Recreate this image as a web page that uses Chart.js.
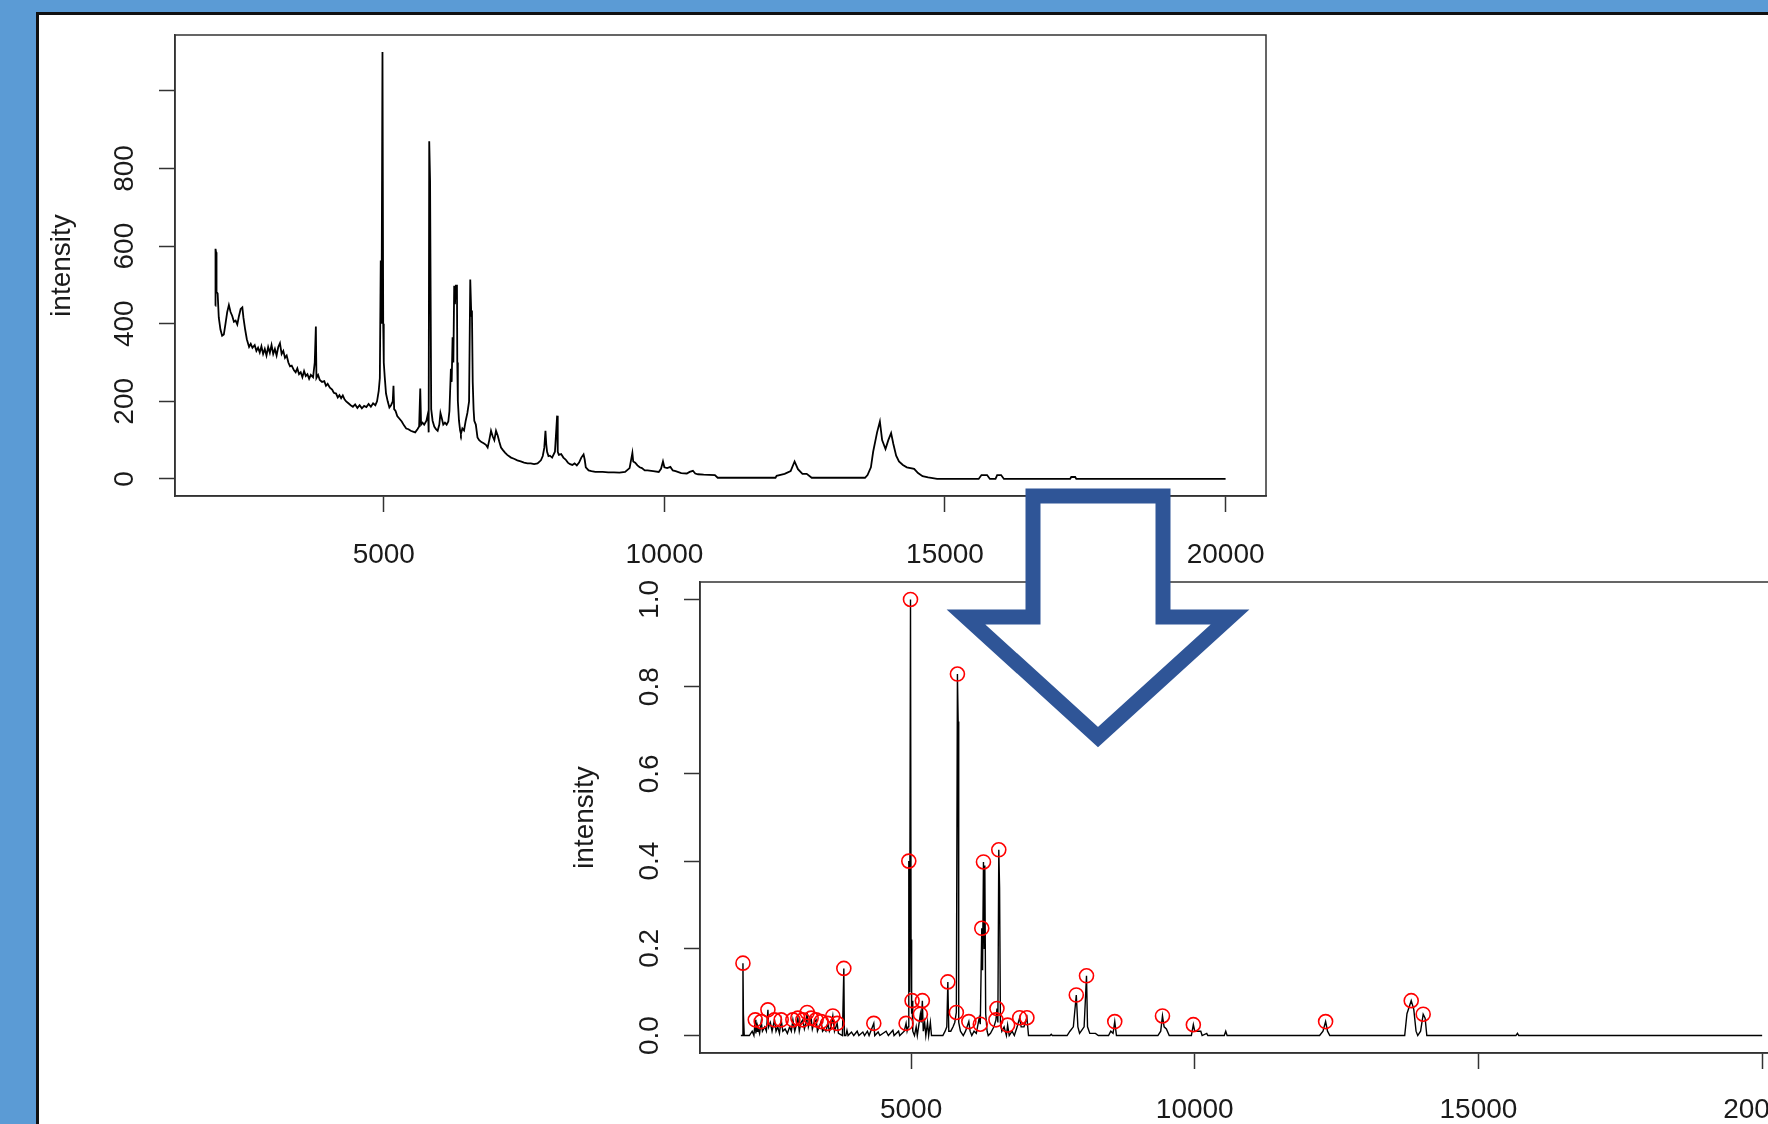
<!DOCTYPE html>
<html>
<head>
<meta charset="utf-8">
<title>Spectrum before and after peak picking</title>
<script src="https://cdn.jsdelivr.net/npm/chart.js@4.4.1/dist/chart.umd.min.js"></script>
<style>
  html, body { margin: 0; padding: 0; }
  body { width: 1768px; height: 1124px; background: #5b9bd5; overflow: hidden; position: relative; }
  #panel { position: absolute; left: 36px; top: 12px; width: 1800px; height: 1200px; background: #fff;
           border-left: 3px solid #111; border-top: 3px solid #111; }
  .plot { position: absolute; }
  #rawBox { left: 38px; top: 15px; }
  #procBox { left: 520px; top: 570px; }
  #arrow { position: absolute; left: 0; top: 0; pointer-events: none; }
</style>
</head>
<body>
<div id="panel"></div>
<div class="plot" id="rawBox"><canvas id="rawChart" width="1250" height="560"></canvas></div>
<div class="plot" id="procBox"><canvas id="procChart" width="1300" height="554"></canvas></div>
<svg id="arrow" width="1768" height="1124">
  <polygon points="1033,496 1163,496 1163,617 1230,617 1098,737 966,617 1033,617"
           fill="#fff" stroke="#2f5597" stroke-width="15" stroke-linejoin="miter" />
</svg>
<script>
// raw spectrum (m/z, intensity)
const rawMz = [
    2000, 2002, 2012, 2020, 2040, 2060, 2090, 2120, 2150, 2180,
    2210, 2240, 2270, 2300, 2330, 2360, 2390, 2420, 2450, 2480,
    2500, 2530, 2560, 2600, 2630, 2660, 2700, 2730, 2760, 2790,
    2820, 2850, 2880, 2910, 2940, 2970, 3000, 3030, 3060, 3090,
    3120, 3150, 3180, 3210, 3240, 3270, 3300, 3330, 3360, 3400,
    3430, 3460, 3490, 3520, 3550, 3580, 3610, 3640, 3670, 3700,
    3740, 3770, 3790, 3800, 3830, 3860, 3900, 3940, 3970, 4000,
    4040, 4080, 4110, 4150, 4180, 4210, 4240, 4270, 4300, 4330,
    4370, 4410, 4450, 4490, 4530, 4570, 4610, 4650, 4690, 4730,
    4770, 4810, 4850, 4880, 4910, 4930, 4946, 4960, 4977, 4990,
    5000, 5018, 5040, 5070, 5100, 5130, 5160, 5173, 5185, 5210,
    5240, 5280, 5320, 5360, 5400, 5440, 5480, 5520, 5560, 5600,
    5630, 5650, 5665, 5690, 5720, 5760, 5790, 5800, 5810, 5825,
    5839, 5845, 5870, 5900, 5930, 5960, 5990, 6010, 6036, 6060,
    6090, 6120, 6150, 6170, 6196, 6210, 6226, 6240, 6255, 6268,
    6285, 6304, 6310, 6320, 6340, 6360, 6375, 6400, 6430, 6460,
    6490, 6520, 6541, 6560, 6571, 6585, 6600, 6613, 6640, 6670,
    6700, 6740, 6780, 6820, 6851, 6880, 6911, 6940, 6970, 7000,
    7030, 7060, 7089, 7120, 7160, 7200, 7268, 7320, 7380, 7440,
    7500, 7560, 7620, 7679, 7740, 7800, 7833, 7860, 7881, 7895,
    7910, 7935, 7960, 8000, 8050, 8089, 8100, 8120, 8161, 8200,
    8240, 8280, 8320, 8360, 8400, 8440, 8480, 8520, 8560, 8580,
    8600, 8650, 8700, 8770, 8900, 9000, 9100, 9200, 9300, 9380,
    9430, 9445, 9480, 9520, 9560, 9600, 9650, 9700, 9800, 9900,
    9940, 9975, 10000, 10050, 10107, 10150, 10200, 10300, 10400, 10450,
    10509, 10550, 10600, 10700, 10900, 10950, 11500, 11980, 12000, 12143,
    12250, 12320, 12380, 12460, 12536, 12625, 13000, 13575, 13620, 13680,
    13720, 13790, 13840, 13880, 13940, 13990, 14040, 14080, 14130, 14180,
    14250, 14320, 14450, 14520, 14600, 14700, 14860, 15600, 15650, 15750,
    15800, 15900, 15930, 16000, 16050, 17230, 17250, 17320, 17340, 20000
];
const rawIntensity = [
    446, 593, 584, 482, 478, 416, 385, 369, 372, 400,
    430, 448, 430, 420, 405, 408, 398, 420, 438, 442,
    415, 385, 360, 340, 348, 338, 345, 330, 338, 326,
    342, 322, 335, 318, 340, 325, 345, 322, 335, 318,
    340, 350, 322, 330, 312, 318, 300, 290, 292, 280,
    275, 285, 270, 275, 262, 278, 265, 270, 258, 268,
    262, 300, 393, 260, 268, 255, 250, 252, 240, 245,
    235, 230, 222, 220, 210, 216, 208, 215, 205, 200,
    195, 190, 186, 192, 183, 190, 182, 188, 185, 193,
    186, 195, 190, 200, 227, 260, 563, 400, 1100, 400,
    300, 261, 220, 200, 184, 190, 200, 240, 180, 175,
    162, 155, 148, 138, 130, 128, 124, 122, 120, 128,
    135, 233, 140, 145, 140, 150, 170, 120, 870, 769,
    769, 180, 150, 135, 128, 124, 140, 170, 155, 140,
    145, 140, 148, 175, 284, 250, 365, 300, 498, 450,
    498, 498, 300, 201, 150, 125, 116, 130, 125, 150,
    170, 200, 514, 420, 434, 250, 180, 150, 140, 107,
    100, 95, 92, 88, 81, 100, 124, 110, 100, 124,
    112, 95, 81, 75, 68, 62, 55, 52, 48, 45,
    42, 40, 40, 38, 40, 48, 59, 80, 124, 90,
    70, 59, 60, 55, 70, 163, 70, 62, 64, 55,
    50, 42, 38, 36, 40, 35, 42, 55, 63, 50,
    30, 22, 20, 18, 18, 17, 17, 16, 18, 28,
    67, 45, 42, 35, 30, 28, 22, 22, 20, 18,
    26, 45, 30, 28, 31, 22, 20, 15, 14, 18,
    21, 14, 12, 11, 10, 3, 3, 3, 8, 13,
    20, 45, 25, 13, 13, 3, 3, 3, 10, 30,
    70, 120, 148, 100, 77, 100, 118, 90, 60, 45,
    36, 30, 26, 15, 7, 4, 0, 0, 10, 10,
    0, 0, 10, 10, 0, 0, 5, 5, 0, 0
];

// processed spectrum (baseline removed, scaled to 1) from the lower plot
const procMz = [
    2000, 2030, 2037, 2045, 2055, 2060, 2150, 2200, 2230, 2254,
    2265, 2271, 2285, 2300, 2330, 2359, 2380, 2420, 2450, 2477,
    2490, 2520, 2550, 2593, 2620, 2650, 2680, 2711, 2740, 2780,
    2820, 2860, 2890, 2917, 2950, 2980, 3005, 3030, 3060, 3093,
    3120, 3150, 3169, 3190, 3210, 3239, 3260, 3290, 3327, 3350,
    3380, 3415, 3440, 3470, 3500, 3533, 3560, 3590, 3621, 3650,
    3697, 3720, 3790, 3815, 3825, 3850, 3870, 3890, 3950, 3990,
    4050, 4080, 4150, 4180, 4230, 4260, 4343, 4360, 4420, 4450,
    4560, 4600, 4680, 4700, 4780, 4800, 4880, 4912, 4930, 4950,
    4960, 4975, 4990, 5000, 5010, 5018, 5030, 5060, 5090, 5110,
    5164, 5180, 5199, 5215, 5240, 5260, 5290, 5310, 5340, 5360,
    5560, 5600, 5630, 5648, 5665, 5700, 5740, 5770, 5798, 5817,
    5830, 5840, 5870, 5920, 5960, 6018, 6040, 6070, 6110, 6150,
    6200, 6220, 6246, 6260, 6276, 6290, 6300, 6315, 6340, 6360,
    6400, 6460, 6496, 6514, 6530, 6546, 6560, 6575, 6600, 6640,
    6680, 6702, 6730, 6780, 6820, 6870, 6914, 6940, 6990, 7042,
    7070, 7450, 7470, 7490, 7750, 7800, 7860, 7912, 7940, 7970,
    8050, 8092, 8110, 8150, 8250, 8300, 8480, 8520, 8560, 8590,
    8620, 9350, 9400, 9431, 9460, 9500, 9550, 9940, 9975, 10000,
    10106, 10130, 10211, 10230, 10520, 10546, 10570, 12200, 12260, 12306,
    12340, 12380, 13700, 13740, 13815, 13860, 13900, 13930, 13980, 14026,
    14060, 14090, 15660, 15687, 15710, 20000
];
const procIntensity = [
    0, 0, 0.166, 0.05, 0.05, 0, 0, 0.01, 0, 0.036,
    0.005, 0.03, 0.01, 0.02, 0.005, 0.032, 0.01, 0.02, 0.01, 0.059,
    0.02, 0.03, 0.01, 0.036, 0.01, 0.02, 0.005, 0.036, 0.01, 0.015,
    0.005, 0.02, 0.01, 0.036, 0.01, 0.025, 0.04, 0.01, 0.03, 0.036,
    0.015, 0.03, 0.053, 0.02, 0.03, 0.04, 0.015, 0.03, 0.036, 0.01,
    0.02, 0.032, 0.01, 0.015, 0.01, 0.028, 0.01, 0.02, 0.045, 0.01,
    0.028, 0.005, 0, 0.154, 0, 0, 0.012, 0, 0.008, 0,
    0.01, 0, 0.008, 0, 0.01, 0, 0.028, 0, 0.008, 0,
    0.01, 0, 0.012, 0, 0.01, 0, 0.01, 0.028, 0.01, 0.02,
    0.40, 0.10, 1.0, 0.22, 0.05, 0.08, 0.01, 0, 0.02, 0,
    0.049, 0.03, 0.08, 0.01, 0.03, 0, 0.03, 0, 0.03, 0,
    0, 0.01, 0.02, 0.123, 0.01, 0.01, 0.02, 0.03, 0.053, 0.829,
    0.72, 0.03, 0.01, 0, 0.01, 0.032, 0.01, 0, 0.01, 0.005,
    0.04, 0.026, 0.246, 0.15, 0.398, 0.20, 0.39, 0.05, 0.01, 0,
    0.005, 0.02, 0.036, 0.062, 0.03, 0.426, 0.34, 0.03, 0.01, 0.02,
    0, 0.024, 0, 0.01, 0, 0.02, 0.041, 0.02, 0.02, 0.041,
    0, 0, 0.003, 0, 0, 0.01, 0.02, 0.093, 0.02, 0.005,
    0.02, 0.137, 0.02, 0.005, 0.005, 0, 0, 0.01, 0.005, 0.032,
    0, 0, 0.01, 0.045, 0.02, 0.015, 0, 0, 0.025, 0.01,
    0.01, 0, 0.005, 0, 0, 0.01, 0, 0, 0.01, 0.032,
    0.01, 0, 0, 0.05, 0.08, 0.06, 0.01, 0, 0.01, 0.049,
    0.04, 0, 0, 0.005, 0, 0
];

// detected peaks (red circles)
const peakMz = [
    2037, 2254, 2359, 2477, 2593, 2711, 2917, 3005, 3093, 3169,
    3239, 3327, 3415, 3533, 3621, 3697, 3815, 4343, 4912, 4960,
    4990, 5018, 5164, 5199, 5648, 5798, 5817, 6018, 6220, 6246,
    6276, 6496, 6514, 6546, 6702, 6914, 7042, 7912, 8092, 8590,
    9431, 9975, 12306, 13815, 14026
];
const peakIntensity = [
    0.166, 0.036, 0.032, 0.059, 0.036, 0.036, 0.036, 0.04, 0.036, 0.053,
    0.04, 0.036, 0.032, 0.028, 0.045, 0.028, 0.154, 0.028, 0.028, 0.40,
    1.0, 0.08, 0.049, 0.08, 0.123, 0.053, 0.829, 0.032, 0.026, 0.246,
    0.398, 0.036, 0.062, 0.426, 0.024, 0.041, 0.041, 0.093, 0.137, 0.032,
    0.045, 0.025, 0.032, 0.08, 0.049
];

const xTicks = [5000, 10000, 15000, 20000];
const rawYTicks = [0, 200, 400, 600, 800, 1000];
const procYTicks = [0, 0.2, 0.4, 0.6, 0.8, 1.0];

const FONT = '"Liberation Sans", Arial, sans-serif';
const TEXT = '#1a1a1a';
const AXIS = '#333';

// R style box around the plot region
const boxPlugin = {
    id: 'box',
    afterDraw(chart) {
        const a = chart.chartArea;
        const ctx = chart.ctx;
        ctx.save();
        ctx.strokeStyle = AXIS;
        ctx.lineWidth = 1.5;
        ctx.strokeRect(a.left, a.top, a.right - a.left, a.bottom - a.top);
        ctx.restore();
    }
};

function toPoints(xs, ys) {
    return xs.map((x, i) => ({ x: x, y: ys[i] }));
}

function spectrumOptions(cfg) {
    return {
        responsive: false,
        animation: false,
        devicePixelRatio: 1,
        layout: { padding: cfg.padding },
        plugins: { legend: { display: false }, tooltip: { enabled: false } },
        scales: {
            x: {
                type: 'linear',
                min: cfg.xMin,
                max: cfg.xMax,
                afterBuildTicks: s => { s.ticks = xTicks.map(v => ({ value: v })); },
                afterFit: s => {
                    // fixed size, no extra room for overhanging labels
                    s.height = cfg.xHeight;
                    s.paddingLeft = 0;
                    s.paddingRight = 0;
                },
                grid: { drawOnChartArea: false, drawTicks: true, tickLength: 16, tickWidth: 1.5, tickColor: AXIS },
                border: { display: true, color: AXIS, width: 1.5 },
                ticks: {
                    color: TEXT, font: { family: FONT, size: 28 }, padding: cfg.xPad,
                    maxRotation: 0, autoSkip: false, callback: v => String(v)
                }
            },
            y: {
                type: 'linear',
                min: cfg.yMin,
                max: cfg.yMax,
                afterBuildTicks: s => { s.ticks = cfg.yTicks.map(v => ({ value: v })); },
                afterFit: s => {
                    s.width = cfg.yWidth;
                    s.paddingTop = 0;
                    s.paddingBottom = 0;
                },
                grid: { drawOnChartArea: false, drawTicks: true, tickLength: 16, tickWidth: 1.5, tickColor: AXIS },
                border: { display: true, color: AXIS, width: 1.5 },
                ticks: {
                    color: TEXT, font: { family: FONT, size: 28 }, padding: cfg.yPad,
                    minRotation: 90, maxRotation: 90, crossAlign: 'center', autoSkip: false,
                    callback: cfg.yLabel
                },
                title: {
                    display: true, text: 'intensity', color: TEXT,
                    font: { family: FONT, size: 28 }, padding: { top: cfg.titlePad, bottom: 0 }
                }
            }
        }
    };
}

new Chart(document.getElementById('rawChart'), {
    type: 'line',
    data: {
        datasets: [{
            data: toPoints(rawMz, rawIntensity),
            borderColor: '#000',
            borderWidth: 1.8,
            pointRadius: 0,
            tension: 0
        }]
    },
    options: spectrumOptions({
        padding: { left: 0, top: 20, right: 22, bottom: 0 },
        xMin: 1280, xMax: 20720, xHeight: 79, xPad: 26,
        yMin: -44, yMax: 1144, yWidth: 137, yPad: 10, titlePad: 7,
        yTicks: rawYTicks,
        yLabel: v => (v === 1000 ? '' : String(v))
    }),
    plugins: [boxPlugin]
});

new Chart(document.getElementById('procChart'), {
    type: 'line',
    data: {
        datasets: [{
            data: toPoints(peakMz, peakIntensity),
            showLine: false,
            pointStyle: 'circle',
            pointRadius: 7,
            pointBorderWidth: 1.6,
            pointBorderColor: '#ff0000',
            pointBackgroundColor: 'rgba(0,0,0,0)',
            order: 0
        }, {
            data: toPoints(procMz, procIntensity),
            borderColor: '#000',
            borderWidth: 1.4,
            pointRadius: 0,
            tension: 0,
            order: 1
        }]
    },
    options: spectrumOptions({
        padding: { left: 0, top: 12, right: 17, bottom: 0 },
        xMin: 1280, xMax: 20720, xHeight: 71, xPad: 24,
        yMin: -0.04, yMax: 1.04, yWidth: 180, yPad: 14, titlePad: 48,
        yTicks: procYTicks,
        yLabel: v => v.toFixed(1)
    }),
    plugins: [boxPlugin]
});
</script>
</body>
</html>
